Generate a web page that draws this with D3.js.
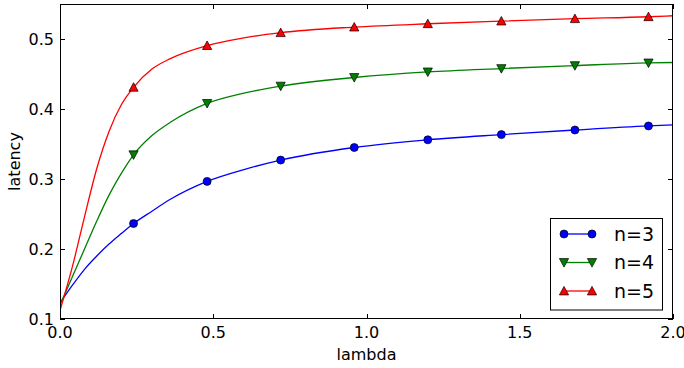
<!DOCTYPE html>
<html>
<head>
<meta charset="utf-8">
<script src="https://cdn.jsdelivr.net/npm/d3@7"></script>
<style>
  body { margin: 0; background: #fff; }
  svg text { font-family: "DejaVu Sans", sans-serif; fill: #000; }
</style>
</head>
<body>
<svg id="chart" width="684" height="368"></svg>
<script>
// ---- data ----
const lambdaGrid = [0, 0.04, 0.08, 0.12, 0.16, 0.2, 0.24, 0.3, 0.36, 0.48, 0.6, 0.72, 0.96, 1.2, 1.44, 1.68, 1.92, 2.0];
const latencyN3 = [0.123, 0.148, 0.171, 0.190, 0.207, 0.222, 0.2364, 0.254, 0.271, 0.2966, 0.3135, 0.327, 0.345, 0.356, 0.3634, 0.370, 0.3758, 0.3772];
const latencyN4 = [0.120, 0.160, 0.200, 0.240, 0.277, 0.308, 0.3346, 0.362, 0.381, 0.408, 0.4226, 0.4327, 0.445, 0.453, 0.4578, 0.462, 0.4658, 0.4664];
const latencyN5 = [0.112, 0.174, 0.246, 0.315, 0.368, 0.406, 0.431, 0.457, 0.472, 0.4906, 0.5016, 0.509, 0.517, 0.5218, 0.5256, 0.529, 0.5318, 0.5332];
const markerLambdas = [0.24, 0.48, 0.72, 0.96, 1.2, 1.44, 1.68, 1.92];
const seriesNames = ["n=3", "n=4", "n=5"];
const seriesColors = ["#0000ff", "#008000", "#ff0000"];
const seriesMarkers = ["circle", "triangleDown", "triangleUp"];
const xTicks = [0.0, 0.5, 1.0, 1.5, 2.0];
const yTicks = [0.1, 0.2, 0.3, 0.4, 0.5];

const seriesValues = [latencyN3, latencyN4, latencyN5];

// ---- layout ----
const svg = d3.select("#chart");
const L = 60, R = 673, T = 4, B = 319;
const x = d3.scaleLinear().domain([0, 2]).range([L, R]);
const y = d3.scaleLinear().domain([0.1, 0.55]).range([B, T]);

svg.append("defs").append("clipPath").attr("id", "clip")
  .append("rect").attr("x", L).attr("y", T).attr("width", R - L).attr("height", B - T);

// ---- lines ----
const line = d3.line()
  .x(d => x(d[0])).y(d => y(d[1]))
  .curve(d3.curveMonotoneX);

function markerPath(type, cx, cy) {
  if (type === "circle") {
    return `M${cx + 4},${cy}A4,4 0 1,1 ${cx - 4},${cy}A4,4 0 1,1 ${cx + 4},${cy}Z`;
  }
  const s = 4.6;
  if (type === "triangleUp") {
    return `M${cx},${cy - s}L${cx + s},${cy + s * 0.85}L${cx - s},${cy + s * 0.85}Z`;
  }
  return `M${cx},${cy + s}L${cx + s},${cy - s * 0.85}L${cx - s},${cy - s * 0.85}Z`;
}

const plot = svg.append("g").attr("clip-path", "url(#clip)");
seriesValues.forEach((vals, i) => {
  const pts = lambdaGrid.map((l, j) => [l, vals[j]]);
  plot.append("path")
    .attr("d", line(pts))
    .attr("fill", "none")
    .attr("stroke", seriesColors[i])
    .attr("stroke-width", 1.3);
});
seriesValues.forEach((vals, i) => {
  const pts = lambdaGrid.map((l, j) => [l, vals[j]])
    .filter(p => markerLambdas.some(m => Math.abs(m - p[0]) < 1e-9));
  plot.selectAll(null).data(pts).enter().append("path")
    .attr("d", d => markerPath(seriesMarkers[i], x(d[0]), y(d[1])))
    .attr("fill", seriesColors[i])
    .attr("stroke", "#000")
    .attr("stroke-width", 0.7);
});

// ---- axes (ticks inside, on all four sides) ----
const tickLen = 5;
const axG = svg.append("g");
xTicks.forEach(t => {
  const px = Math.round(x(t)) + 0.5;
  axG.append("line").attr("x1", px).attr("x2", px).attr("y1", B).attr("y2", B - tickLen).attr("stroke", "#000");
  axG.append("line").attr("x1", px).attr("x2", px).attr("y1", T).attr("y2", T + tickLen).attr("stroke", "#000");
  axG.append("text").attr("x", x(t)).attr("y", 337.5).attr("text-anchor", "middle")
    .attr("font-size", 16).text(d3.format(".1f")(t));
});
yTicks.forEach(t => {
  const py = Math.round(y(t)) + 0.5;
  axG.append("line").attr("x1", L).attr("x2", L + tickLen).attr("y1", py).attr("y2", py).attr("stroke", "#000");
  axG.append("line").attr("x1", R).attr("x2", R - tickLen).attr("y1", py).attr("y2", py).attr("stroke", "#000");
  axG.append("text").attr("x", 54).attr("y", y(t)).attr("dy", "0.36em").attr("text-anchor", "end")
    .attr("font-size", 16).text(d3.format(".1f")(t));
});
axG.append("rect").attr("x", L + 0.5).attr("y", T + 0.5).attr("width", R - L - 1).attr("height", B - T - 1)
  .attr("fill", "none").attr("stroke", "#000").attr("stroke-width", 1);

// axis labels
svg.append("text").attr("x", (L + R) / 2).attr("y", 359.5).attr("text-anchor", "middle")
  .attr("font-size", 16).text("lambda");
svg.append("text").attr("transform", `translate(19.5,${(T + B) / 2}) rotate(-90)`)
  .attr("text-anchor", "middle").attr("font-size", 16).text("latency");

// ---- legend ----
const lg = svg.append("g");
lg.append("rect").attr("x", 550.5).attr("y", 218.5).attr("width", 112).attr("height", 91.5)
  .attr("fill", "#fff").attr("stroke", "#000").attr("stroke-width", 1);
const legendY = [234, 262.5, 291];
seriesNames.forEach((name, i) => {
  const cy = legendY[i];
  lg.append("line").attr("x1", 564).attr("x2", 592).attr("y1", cy).attr("y2", cy)
    .attr("stroke", seriesColors[i]).attr("stroke-width", 1.3);
  [564, 592].forEach(cx => {
    lg.append("path").attr("d", markerPath(seriesMarkers[i], cx, cy))
      .attr("fill", seriesColors[i]).attr("stroke", "#000").attr("stroke-width", 0.7);
  });
  lg.append("text").attr("x", 614).attr("y", cy).attr("dy", "0.36em")
    .attr("font-size", 19).text(name);
});
</script>
</body>
</html>
